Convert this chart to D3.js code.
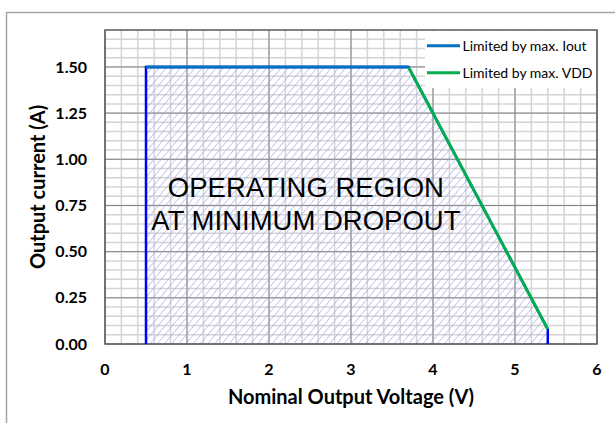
<!DOCTYPE html>
<html>
<head>
<meta charset="utf-8">
<script src="https://cdn.jsdelivr.net/npm/d3@7"></script>
<style>
  body { margin: 0; background: #fff; }
  svg { display: block; }
</style>
</head>
<body>
<script>
// series: limited by max. Iout (top line)
const ioutV = [0.5, 3.7];
const ioutI = [1.5, 1.5];
// series: limited by max. VDD (slope)
const vddV = [3.7, 5.4];
const vddI = [1.5, 0.08];
// operating region outline
const regionV = [0.5, 0.5, 3.7, 5.4, 5.4];
const regionI = [0, 1.5, 1.5, 0.08, 0];

const xTicks = [0, 1, 2, 3, 4, 5, 6];
const yTicks = [0, 0.25, 0.5, 0.75, 1.0, 1.25, 1.5];
const legendLabels = ['Limited by max. Iout', 'Limited by max. VDD'];
const regionLabel = ['OPERATING REGION', 'AT MINIMUM DROPOUT'];

const W = 615, H = 423;
const margin = { top: 30, right: 18, bottom: 79, left: 105 };

const svg = d3.select('body').append('svg')
  .attr('width', W).attr('height', H);

// outer chart border (runs off the right/bottom edge)
svg.append('rect')
  .attr('x', 6.5).attr('y', 12.5)
  .attr('width', 700).attr('height', 500)
  .attr('fill', 'none').attr('stroke', '#a6a6a6').attr('stroke-width', 1.5);

const x = d3.scaleLinear().domain([0, 6]).range([margin.left, W - margin.right]);
const y = d3.scaleLinear().domain([0, 1.7]).range([H - margin.bottom, margin.top]);

// hatch pattern for the region
const defs = svg.append('defs');
defs.append('pattern')
  .attr('id', 'hatch')
  .attr('patternUnits', 'userSpaceOnUse')
  .attr('width', 5.5).attr('height', 10)
  .attr('patternTransform', 'rotate(40)')
  .append('line')
  .attr('x1', 0).attr('y1', 0).attr('x2', 0).attr('y2', 10)
  .attr('stroke', '#9c9cf2').attr('stroke-width', 1.1);

const grid = svg.append('g');

// minor grid
grid.selectAll('.vminor')
  .data(d3.range(1, 30).map(d => d * 0.2))
  .enter().append('line')
  .attr('x1', d => x(d)).attr('x2', d => x(d))
  .attr('y1', y(0)).attr('y2', y(1.7))
  .attr('stroke', '#d4d4d4').attr('stroke-width', 1.5);

grid.selectAll('.hminor')
  .data(d3.range(1, 34).map(d => d * 0.05))
  .enter().append('line')
  .attr('y1', d => y(d)).attr('y2', d => y(d))
  .attr('x1', x(0)).attr('x2', x(6))
  .attr('stroke', '#d4d4d4').attr('stroke-width', 1.5);

// major grid
grid.selectAll('.vmajor')
  .data(xTicks)
  .enter().append('line')
  .attr('x1', d => x(d)).attr('x2', d => x(d))
  .attr('y1', y(0)).attr('y2', y(1.7))
  .attr('stroke', '#858585').attr('stroke-width', 1);

grid.selectAll('.hmajor')
  .data(yTicks)
  .enter().append('line')
  .attr('y1', d => y(d)).attr('y2', d => y(d))
  .attr('x1', x(0)).attr('x2', x(6))
  .attr('stroke', '#858585').attr('stroke-width', 1);

// hatched region
const region = regionV.map((v, i) => [v, regionI[i]]);
svg.append('path')
  .datum(region)
  .attr('fill', 'url(#hatch)')
  .attr('d', d3.line().x(d => x(d[0])).y(d => y(d[1])));

// annotation
const note = svg.append('text')
  .attr('text-anchor', 'middle')
  .style('font-family', '"Liberation Sans", Arial, sans-serif')
  .style('font-size', '27.5px')
  .attr('fill', '#000');
note.selectAll('tspan')
  .data(regionLabel)
  .enter().append('tspan')
  .attr('x', x(2.45))
  .attr('y', (d, i) => y(0.796 - i * 0.18))
  .text(d => d);

// plot border
svg.append('rect')
  .attr('x', x(0)).attr('y', y(1.7))
  .attr('width', x(6) - x(0)).attr('height', y(0) - y(1.7))
  .attr('fill', 'none').attr('stroke', '#595959').attr('stroke-width', 1.5);

// region outline (sides only)
svg.append('path')
  .datum(region)
  .attr('fill', 'none')
  .attr('stroke', '#0000ff').attr('stroke-width', 2.5)
  .attr('d', d3.line().x(d => x(d[0])).y(d => y(d[1])));

const line = d3.line().x(d => x(d[0])).y(d => y(d[1]));

svg.append('path')
  .datum(ioutV.map((v, i) => [v, ioutI[i]]))
  .attr('fill', 'none').attr('stroke', '#0070c0').attr('stroke-width', 3)
  .attr('d', line);

svg.append('path')
  .datum(vddV.map((v, i) => [v, vddI[i]]))
  .attr('fill', 'none').attr('stroke', '#00b050').attr('stroke-width', 3)
  .attr('d', line);

// legend
const legend = svg.append('g');
legend.append('rect')
  .attr('x', 425).attr('y', y(1.7) + 1)
  .attr('width', x(6) - 425 - 1).attr('height', 57)
  .attr('fill', '#fff');
const legendColors = ['#0070c0', '#00b050'];
const items = legend.selectAll('.item')
  .data(legendLabels)
  .enter().append('g')
  .attr('transform', (d, i) => 'translate(427,' + (45.7 + i * 27) + ')');
items.append('line')
  .attr('x1', 0).attr('x2', 33)
  .attr('stroke', (d, i) => legendColors[i]).attr('stroke-width', 3);
items.append('text')
  .attr('x', 35.5).attr('dy', '0.35em')
  .style('font-family', 'Lato, sans-serif')
  .style('font-size', '14px')
  .attr('fill', '#000')
  .text(d => d);

// tick labels
svg.append('g').selectAll('text')
  .data(xTicks)
  .enter().append('text')
  .attr('x', d => x(d)).attr('y', 375)
  .attr('text-anchor', 'middle')
  .style('font-family', 'Lato, sans-serif')
  .style('font-size', '16px').style('font-weight', 'bold')
  .text(d => d);

svg.append('g').selectAll('text')
  .data(yTicks)
  .enter().append('text')
  .attr('x', 87).attr('y', d => y(d)).attr('dy', '0.35em')
  .attr('text-anchor', 'end')
  .style('font-family', 'Lato, sans-serif')
  .style('font-size', '16px').style('font-weight', 'bold')
  .text(d => d3.format('.2f')(d));

// axis titles
svg.append('text')
  .attr('x', (x(0) + x(6)) / 2).attr('y', 404)
  .attr('text-anchor', 'middle')
  .style('font-family', 'Lato, sans-serif')
  .style('font-size', '20px').style('font-weight', 'bold')
  .text('Nominal Output Voltage (V)');

svg.append('text')
  .attr('transform', 'translate(45,' + (y(0) + y(1.7)) / 2 + ') rotate(-90)')
  .attr('text-anchor', 'middle')
  .style('font-family', 'Lato, sans-serif')
  .style('font-size', '20px').style('font-weight', 'bold')
  .text('Output current (A)');
</script>
</body>
</html>
